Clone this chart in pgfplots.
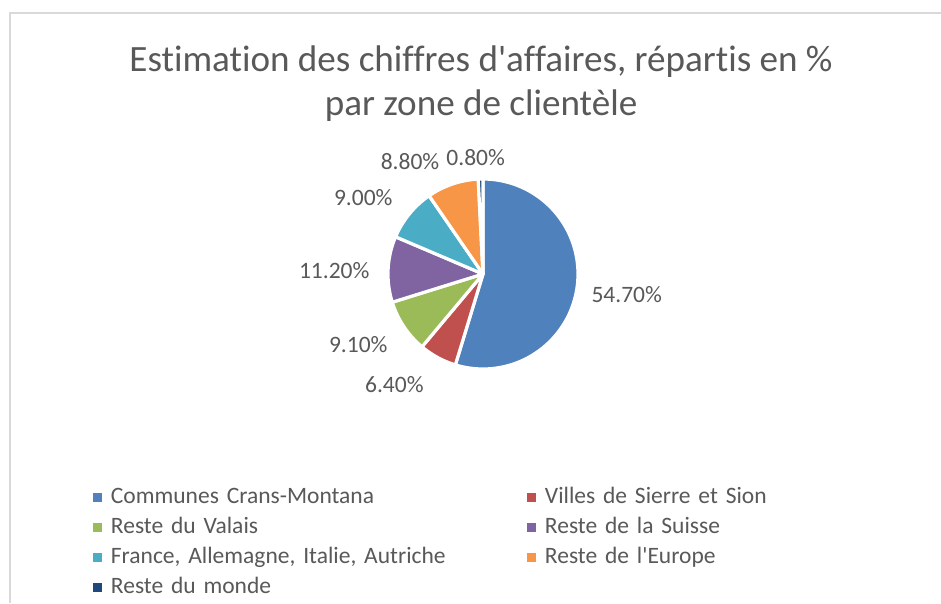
\documentclass[border=0pt]{standalone}
\usepackage{fontspec}
\setmainfont{Carlito}[Ligatures={NoCommon}]
\usepackage{pgfplots}
\pgfplotsset{compat=1.18}
\usepgfplotslibrary{polar}
\definecolor{cA}{HTML}{4F81BD}
\definecolor{cB}{HTML}{C0504D}
\definecolor{cC}{HTML}{9BBB59}
\definecolor{cD}{HTML}{8064A2}
\definecolor{cE}{HTML}{4BACC6}
\definecolor{cF}{HTML}{F79646}
\definecolor{cG}{HTML}{1F497D}
\definecolor{textgray}{HTML}{595959}
\definecolor{bordergray}{HTML}{D9D9D9}
% #1 = cumulative share before the slice, #2 = share (%), #3 = colour
\newcommand{\pieslice}[3]{%
  \pgfmathsetmacro{\angA}{90-3.6*(#1+#2)}%
  \pgfmathsetmacro{\angB}{90-3.6*(#1)}%
  \edef\doslice{\noexpand\addplot[fill=#3, draw=white, line width=3.2pt, line join=round, domain=\angA:\angB, samples=90] {1} -- (axis cs:0,0) -- cycle;}%
  \doslice
}
\begin{document}
\begin{tikzpicture}
\useasboundingbox (0pt,0pt) rectangle (941pt,603pt);
\fill[white] (0pt,0pt) rectangle (941pt,603pt);
\draw[bordergray, line width=1.5pt] (10pt,0pt) -- (10pt,590pt) -- (941pt,590pt);
\node[anchor=base, inner sep=0pt, font=\fontsize{37.1}{44}\selectfont, text=textgray] at (481pt,531pt) {Estimation des chiffres d\textquotesingle affaires, répartis en \%};
\node[anchor=base, inner sep=0pt, font=\fontsize{37.1}{44}\selectfont, text=textgray] at (481pt,487pt) {par zone de clientèle};
\begin{polaraxis}[
  at={(483pt,329pt)}, anchor=center,
  width=190pt, height=190pt, scale only axis,
  hide axis, xmin=0, xmax=360, ymin=0, ymax=1, clip=false,
  legend columns=2, legend cell align=left,
  legend style={draw=none, fill=none, at={(-1.554,-0.613)}, anchor=north west,
    inner sep=0pt, font=\fontsize{23.5}{28}\selectfont, text=textgray, row sep=6pt,
    nodes={inner sep=0pt, text height=18pt, text depth=6pt, text width=416pt, align=left},
    /tikz/every odd column/.append style={column sep=9pt}},
  legend image code/.code={\fill[#1, draw=none] (0pt,-4.5pt) rectangle (9pt,4.5pt);},
]
\pieslice{0}{54.7}{cA}\addlegendentry{Communes Crans-Montana}
\pieslice{54.7}{6.4}{cB}\addlegendentry{Villes de Sierre et Sion}
\pieslice{61.1}{9.1}{cC}\addlegendentry{Reste du Valais}
\pieslice{70.2}{11.2}{cD}\addlegendentry{Reste de la Suisse}
\pieslice{81.4}{9.0}{cE}\addlegendentry{France, Allemagne, Italie, Autriche}
\pieslice{90.4}{8.8}{cF}\addlegendentry{Reste de l\textquotesingle Europe}
\pieslice{99.2}{0.8}{cG}\addlegendentry{Reste du monde}
\addplot[forget plot, draw=none, mark=none, nodes near coords, point meta=explicit symbolic,
  every node near coord/.append style={anchor=center, inner sep=0pt, font=\fontsize{23.5}{28}\selectfont, text=textgray}]
  table[x=a, y=r, meta=lab] {
a r lab
351.69 1.529 54.70\%
231.4 1.496 6.40\%
209.66 1.511 9.10\%
178.84 1.566 11.20\%
147.35 1.497 9.00\%
123.03 1.41 8.80\%
93.6 1.223 0.80\%
};
\end{polaraxis}
\end{tikzpicture}
\end{document}
